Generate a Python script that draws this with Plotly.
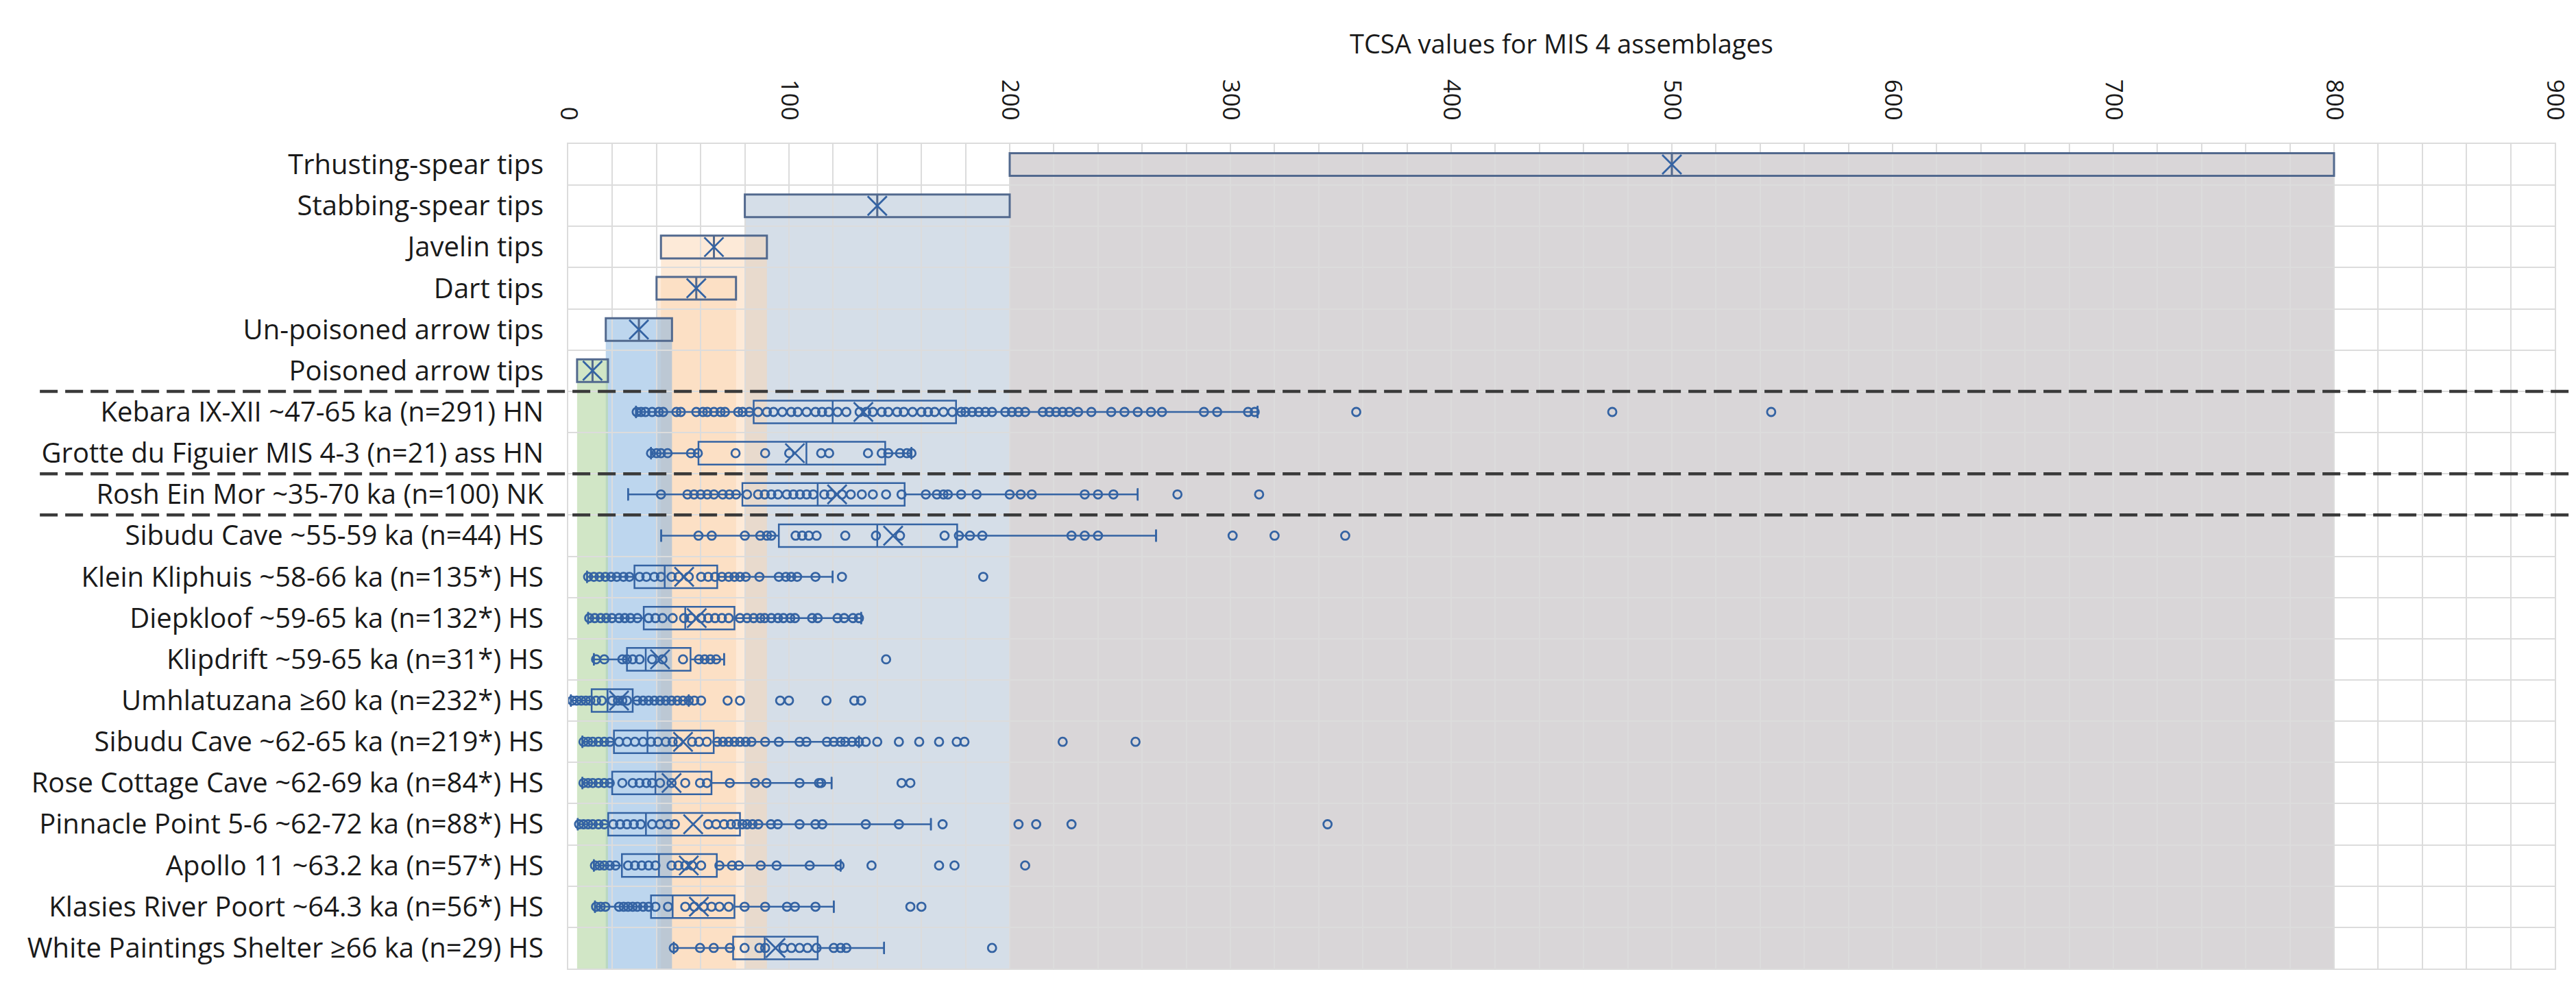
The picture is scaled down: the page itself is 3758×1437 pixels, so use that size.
import plotly.graph_objects as go

# ---------------- data ----------------
categories = [
    "Trhusting-spear tips",
    "Stabbing-spear tips",
    "Javelin tips",
    "Dart tips",
    "Un-poisoned arrow tips",
    "Poisoned arrow tips",
    "Kebara IX-XII ~47-65 ka (n=291) HN",
    "Grotte du Figuier MIS 4-3 (n=21) ass HN",
    "Rosh Ein Mor ~35-70 ka (n=100) NK",
    "Sibudu Cave ~55-59 ka (n=44) HS",
    "Klein Kliphuis ~58-66 ka (n=135*) HS",
    "Diepkloof ~59-65 ka (n=132*) HS",
    "Klipdrift ~59-65 ka (n=31*) HS",
    "Umhlatuzana ≥60 ka (n=232*) HS",
    "Sibudu Cave ~62-65 ka (n=219*) HS",
    "Rose Cottage Cave ~62-69 ka (n=84*) HS",
    "Pinnacle Point 5-6 ~62-72 ka (n=88*) HS",
    "Apollo 11 ~63.2 ka (n=57*) HS",
    "Klasies River Poort ~64.3 ka (n=56*) HS",
    "White Paintings Shelter ≥66 ka (n=29) HS",
]

# reference weapon categories (mean +/- sd)
ref_names = categories[:6]
ref_low = [200, 80, 42, 40, 17, 4]
ref_mean = [500, 140, 66, 58, 32, 11]
ref_high = [800, 200, 90, 76, 47, 18]

# archaeological assemblages
asm_names = categories[6:]
asm_lo = [30.7, 37.5, 27.1, 42.1, 8.5, 9.0, 11.6, 1.2, 6.4, 6.4, 4.3, 11.6, 12.1, 47.8]
asm_q1 = [84.0, 59.0, 78.9, 95.4, 30.0, 34.2, 26.6, 10.6, 20.7, 19.9, 18.1, 24.3, 37.5, 74.7]
asm_med = [119.8, 107.9, 113.0, 140.0, 43.7, 53.0, 35.1, 17.8, 35.9, 39.5, 35.2, 41.1, 47.3, 89.0]
asm_q3 = [175.7, 143.6, 152.4, 176.2, 67.5, 75.3, 55.4, 29.2, 65.9, 64.9, 77.8, 67.3, 75.3, 113.0]
asm_hi = [312.3, 155.5, 258.0, 266.3, 119.8, 132.7, 70.6, 54.6, 131.7, 119.3, 164.3, 123.4, 120.3, 143.1]
asm_mean = [133.7, 102.7, 121.8, 147.2, 52.5, 58.2, 41.6, 23.0, 52.0, 46.8, 56.6, 54.6, 59.2, 93.9]

pts_kebara = [31, 33, 35, 38, 41, 43, 49, 51, 58, 61, 63, 66, 69, 71, 77, 79, 82, 86, 90, 93,
              97, 101, 104, 108, 112, 115, 118, 122, 126, 132, 135, 138, 142, 145, 149, 152,
              156, 160, 163, 166, 170, 174, 178, 180, 183, 186, 189, 192, 198, 201, 204, 207,
              215, 218, 221, 224, 227, 231, 237, 246, 252, 258, 264, 269, 288, 294, 308, 311,
              357, 473, 545]
pts_figuier = [37.5, 40, 42, 45, 55.6, 58.7, 75.8, 89.2, 100.1, 114.6, 118.2, 135.8, 142, 145,
               150.3, 153.4, 155.5]
pts_rosh = [42, 54, 57, 60, 63, 66, 70, 73, 76, 81, 86, 89, 92, 95, 99, 102, 105, 108, 111, 116,
            119, 124, 128, 133, 138, 144, 151, 162, 167, 170, 172, 178, 185, 200, 205, 210, 234,
            240, 247, 276, 313]
pts_sibudu1 = [59, 65, 80, 87, 90, 92, 103, 106, 109, 112.5, 125.5, 139.4, 150.3, 170.5, 177,
               182, 187.6, 228, 234, 240, 301, 320, 352]
pts_klein = [9, 11.6, 14.2, 16.8, 19.4, 22, 25, 27.7, 32.3, 35.4, 39, 42, 46.8, 50, 54.6, 60.2,
             63.4, 66.5, 69.6, 72.7, 75.3, 77.8, 80.4, 86.6, 95.4, 98.6, 101, 103.7, 112, 124, 188]
pts_diepkloof = [9.5, 12, 14.7, 17.2, 19.8, 23, 25.6, 28.2, 31.3, 36.4, 39.5, 42.7, 47.3, 52.5,
                 55.6, 60.2, 63.4, 66.5, 69.6, 72.7, 77.8, 81, 84, 87, 89, 92, 95, 97.5, 100.6,
                 102.7, 110.5, 113, 122, 125, 129, 131.7]
pts_klipdrift = [12.6, 16.3, 24.5, 26.6, 29.2, 32.3, 38, 42.7, 52, 59.2, 61.8, 64.4, 67, 144]
pts_umhlatuzana = [1.8, 3.8, 5.9, 8, 10, 12.6, 15.2, 19.9, 22.5, 24.5, 26.6, 31.3, 33.9, 36.4,
                   39, 41.6, 44.2, 46.8, 49.4, 52, 54.6, 57.1, 60.2, 72.2, 77.8, 96, 100, 117,
                   129.6, 132.7]
pts_sibudu2 = [6.9, 9, 11.1, 13.7, 16.3, 18.8, 23, 26.6, 30.2, 33.9, 37.5, 40.6, 44.2, 47.3,
               49.9, 56.1, 59.2, 62.8, 67.5, 70.1, 72.7, 75.3, 77.8, 80.4, 83, 89.2, 95.4, 104.8,
               107.9, 117.2, 120.3, 123.4, 125.5, 128.6, 131.7, 134.8, 140, 149.8, 159, 168, 176,
               179.5, 224, 257]
pts_rose = [6.9, 9, 11.1, 13.7, 16.3, 18.8, 24.5, 29.2, 32.3, 35.4, 38, 41.6, 46.8, 53, 59.7,
            62.8, 73.2, 84.6, 89.8, 104.8, 113.6, 114.6, 151, 155]
pts_pinnacle = [4.9, 6.9, 9, 11.1, 13.7, 16.3, 20.4, 23.5, 26.6, 29.7, 32.8, 38, 41.6, 45.2,
                48.3, 63.4, 67, 70.6, 73.7, 76.3, 78.9, 81, 83.5, 86.1, 91.8, 94.9, 104.8, 112,
                115.1, 134.8, 149.8, 169.6, 204, 212, 228, 344]
pts_apollo = [12.1, 14.2, 16.3, 18.8, 21.4, 27.1, 30.2, 33.3, 36.4, 39.5, 46.8, 49.9, 53, 56.1,
              60.2, 68.5, 74.2, 77.3, 87.2, 94.4, 109.4, 122.9, 137.4, 168, 175, 207]
pts_klasies = [12.6, 14.7, 16.8, 23, 25.1, 27.1, 29.2, 31.3, 33.9, 36.4, 39.5, 45.2, 53, 57.1,
               61.3, 64.9, 68.5, 72.7, 79.9, 89.2, 99.1, 102.7, 112, 155, 160]
pts_white = [47.8, 59.7, 65.9, 73.2, 79.9, 86.6, 89.2, 97.5, 101.1, 104.8, 108.4, 112.5, 120.3,
             123.4, 126, 192]

asm_points = [pts_kebara, pts_figuier, pts_rosh, pts_sibudu1, pts_klein, pts_diepkloof,
              pts_klipdrift, pts_umhlatuzana, pts_sibudu2, pts_rose, pts_pinnacle, pts_apollo,
              pts_klasies, pts_white]

separators_after = ["Poisoned arrow tips",
                    "Grotte du Figuier MIS 4-3 (n=21) ass HN",
                    "Rosh Ein Mor ~35-70 ka (n=100) NK"]

x_ticks = [0, 100, 200, 300, 400, 500, 600, 700, 800, 900]
title_text = "TCSA values for MIS 4 assemblages"

# ---------------- styles ----------------
FONT = "Open Sans"
BLUE = "#3463A3"
REF_LINE = "#52698E"
BOX_W = 0.55
band_colors = [
    "rgba(179,173,177,0.5)",   # thrusting
    "rgba(171,189,209,0.5)",   # stabbing
    "rgba(251,213,178,0.5)",   # javelin
    "rgba(251,213,178,0.5)",   # dart
    "rgba(135,180,224,0.55)",  # un-poisoned
    "rgba(185,216,168,0.65)",  # poisoned
]

fig = go.Figure()

# reference boxes
for name, lo, m, hi in zip(ref_names, ref_low, ref_mean, ref_high):
    fig.add_trace(go.Box(
        y=[name], q1=[lo], median=[m], q3=[hi], lowerfence=[lo], upperfence=[hi],
        orientation="h", boxpoints=False, width=BOX_W,
        line=dict(color=REF_LINE, width=3), fillcolor="rgba(0,0,0,0)",
        showlegend=False, hoverinfo="skip"))

# assemblage boxes
for name, lo, q1, md, q3, hi in zip(asm_names, asm_lo, asm_q1, asm_med, asm_q3, asm_hi):
    fig.add_trace(go.Box(
        y=[name], q1=[q1], median=[md], q3=[q3], lowerfence=[lo], upperfence=[hi],
        orientation="h", boxpoints=False, width=BOX_W,
        line=dict(color=BLUE, width=2.5), fillcolor="rgba(0,0,0,0)",
        showlegend=False, hoverinfo="skip"))

# whisker caps
cap_x, cap_y = [], []
for name, lo, hi in zip(asm_names, asm_lo, asm_hi):
    cap_x += [lo, hi]
    cap_y += [name, name]
fig.add_trace(go.Scatter(
    x=cap_x, y=cap_y, mode="markers",
    marker=dict(symbol="line-ns-open", size=13, color=BLUE, line=dict(width=2.5, color=BLUE)),
    showlegend=False, hoverinfo="skip"))

# data points
for name, pts in zip(asm_names, asm_points):
    fig.add_trace(go.Scatter(
        x=pts, y=[name] * len(pts), mode="markers",
        marker=dict(symbol="circle-open", size=12, color=BLUE, line=dict(width=2.8, color=BLUE)),
        showlegend=False, hoverinfo="skip"))

# means (X)
fig.add_trace(go.Scatter(
    x=ref_mean + asm_mean, y=ref_names + asm_names, mode="markers",
    marker=dict(symbol="x-thin-open", size=28, color=BLUE, line=dict(width=2.8, color=BLUE)),
    showlegend=False, hoverinfo="skip"))

# shaded bands for the reference ranges
n = len(categories)
shapes = []
for i, (lo, hi, col) in enumerate(zip(ref_low, ref_high, band_colors)):
    shapes.append(dict(type="rect", xref="x", yref="y", x0=lo, x1=hi,
                       y0=i - BOX_W / 2, y1=n - 0.5,
                       fillcolor=col, line=dict(width=0), layer="below"))
# dashed separators
for name in separators_after:
    yv = categories.index(name) + 0.5
    shapes.append(dict(type="line", xref="paper", yref="y", x0=-0.266, x1=1.02, y0=yv, y1=yv,
                       line=dict(color="#3a3a3a", width=4.5, dash="26px,11px"), layer="above"))

fig.update_layout(
    width=3758, height=1437,
    template="none",
    paper_bgcolor="white", plot_bgcolor="white",
    margin=dict(l=821, r=39, t=202, b=32),
    font=dict(family=FONT, color="#1a1a1a"),
    boxmode="overlay",
    showlegend=False,
    shapes=shapes,
    annotations=[dict(text=title_text, xref="paper", yref="paper", x=0.5, y=1.122,
                      xanchor="center", yanchor="middle", showarrow=False,
                      font=dict(family=FONT, size=38, color="#1a1a1a"))],
)

fig.update_xaxes(
    side="top", range=[0, 900], tickmode="array", tickvals=x_ticks,
    ticktext=[str(v) for v in x_ticks], tickangle=90,
    tickfont=dict(family=FONT, size=35, color="#1a1a1a"),
    ticks="", ticklabelstandoff=20,
    showgrid=True, gridcolor="#DCDCDC", gridwidth=2,
    minor=dict(dtick=20, showgrid=True, gridcolor="#DCDCDC", gridwidth=2),
    showline=True, linecolor="#DCDCDC", linewidth=2, mirror=True,
    zeroline=False, automargin=False,
)
fig.update_yaxes(
    type="category", categoryorder="array", categoryarray=categories,
    range=[n - 0.5, -0.5], autorange=False, tickson="boundaries",
    tickfont=dict(family=FONT, size=40, color="#1a1a1a"),
    ticks="", ticklabelstandoff=26,
    showgrid=True, gridcolor="#DCDCDC", gridwidth=2,
    showline=True, linecolor="#DCDCDC", linewidth=2, mirror=True,
    zeroline=False, automargin=False,
)

fig.write_html("out.html")
